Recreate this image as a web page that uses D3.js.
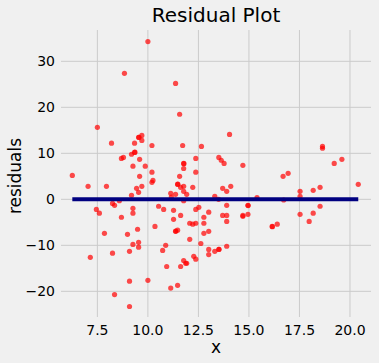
<!DOCTYPE html>
<html lang="en">
<head>
    <meta charset="UTF-8">
    <script src="https://d3js.org/d3.v7.min.js"></script>
    <title>Residual Plot</title>
    <style>
        body { margin: 0; background: #f0f0f0; }
        text { font-family: 'DejaVu Sans', sans-serif; fill: #000; }
    </style>
</head>
<body>
    <div id="app"></div>
    <script>
        const svg_width = 379;
        const svg_height = 363;

        // x values of each point
        var xs = [10.0, 8.84, 11.37, 11.57, 7.5, 9.54, 9.56, 9.7, 9.7, 8.2, 9.34, 10.2, 11.72, 12.65, 14.04,
            9.34, 9.36, 9.19, 8.79, 8.69, 9.59, 12.37, 13.63, 13.51, 13.77, 11.77, 11.78, 11.77, 9.87, 9.26,
            14.7, 19.22, 19.6, 18.64, 18.64, 16.69, 16.94, 20.41, 6.26, 10.2, 12.37, 9.59, 11.57, 10.25, 10.2,
            11.47, 11.48, 7.04, 7.95, 9.7, 9.44, 11.77, 12.22, 11.62, 13.7, 14.1, 13.9, 9.54, 11.77, 11.13,
            11.37, 11.92, 9.19, 13.31, 17.53, 17.53, 18.18, 18.52, 15.4, 11.16, 11.77, 8.59, 8.25, 8.35, 7.45,
            7.6, 8.69, 9.26, 9.26, 10.53, 10.78, 11.27, 11.62, 12.52, 12.37, 13.01, 12.77, 13.5, 16.72, 11.27,
            12.77, 12.37, 12.07, 12.22, 13.9, 13.9, 13.7, 13.9, 14.7, 14.7, 14.95, 14.95, 14.96, 17.53, 18.18,
            17.98, 18.52, 16.15, 16.16, 16.4, 9.49, 10.35, 11.37, 11.38, 11.47, 13.01, 12.77, 7.85, 8.99, 12.07,
            9.54, 9.54, 9.26, 10.88, 12.62, 13.9, 10.73, 13.01, 13.01, 13.51, 13.52, 13.31, 9.09, 8.25, 7.15,
            12.27, 12.37, 11.77, 11.87, 11.92, 10.93, 11.62, 11.13, 11.47, 9.09, 10.0, 8.35, 9.09]

        // residual of each point
        var residuals = [34.3, 27.4, 25.2, 18.5, 15.65, 13.5, 13.45, 13.9, 12.8, 12.2, 12.2, 11.7, 11.7, 11.5, 14.1,
            10.2, 10.25, 9.8, 9.1, 8.9, 8.7, 8.9, 8.5, 9.1, 7.8, 7.8, 7.75, 6.7, 7.2, 7.2,
            7.4, 7.8, 8.7, 11.5, 11.1, 5.0, 5.65, 3.26, 5.2, 5.9, 5.9, 5.0, 5.0, 4.1, 3.7,
            3.26, 3.3, 2.83, 2.83, 2.83, 2.4, 2.83, 2.6, 2.6, 2.4, 2.83, 1.74, 1.52, 1.74, 1.3,
            1.09, 1.09, 0.87, 0.65, 1.74, 0.65, 1.96, 2.6, 0.36, 0.5, -0.3, -0.3, -0.9, -1.3, -2.2,
            -3.0, -3.9, -1.96, -3.0, -1.5, -2.2, -2.4, -3.5, -1.74, -2.2, -2.8, -3.9, 0.0, -0.15, -4.35,
            -5.2, -5.2, -5.2, -5.4, -3.5, -4.8, -3.5, -1.3, -3.5, -3.7, -3.26, -1.3, -1.35, -3.26, -3.0,
            -4.8, -1.5, -5.9, -5.95, -5.4, -6.5, -5.9, -6.95, -6.9, -6.7, -6.95, -7.4, -7.4, -7.6, -8.7,
            -9.35, -10.4, -9.8, -10.0, -9.6, -10.2, -11.1, -10.9, -12.0, -10.9, -10.85, -11.3, -11.3, -11.7, -12.6,
            -12.4, -13.0, -13.3, -13.9, -13.9, -14.6, -14.6, -19.3, -18.7, -17.8, -17.6, -20.7, -23.3]

        var x_ticks = [7.5, 10.0, 12.5, 15.0, 17.5, 20.0]
        var y_ticks = [-20, -10, 0, 10, 20, 30]

        var points = xs.map(function (d, i) {
            return { x: d, y: residuals[i] }
        })

        var svg = d3.select('#app')
            .append('svg')
            .attr('width', svg_width)
            .attr('height', svg_height)

        svg.append('rect')
            .attr('width', svg_width)
            .attr('height', svg_height)
            .attr('fill', '#f0f0f0')

        var x_scale = d3.scaleLinear()
            .domain([5.7, 21.04])
            .range([61, 371])
        var y_scale = d3.scaleLinear()
            .domain([-25.58, 36.81])
            .range([317, 30])

        // grid
        svg.selectAll('.vgrid')
            .data(x_ticks)
            .enter()
            .append('line')
            .attr('x1', function (d) { return x_scale(d) })
            .attr('x2', function (d) { return x_scale(d) })
            .attr('y1', 30)
            .attr('y2', 317)
            .attr('stroke', '#cbcbcb')
            .attr('stroke-width', 1)

        svg.selectAll('.hgrid')
            .data(y_ticks)
            .enter()
            .append('line')
            .attr('x1', 61)
            .attr('x2', 371)
            .attr('y1', function (d) { return y_scale(d) })
            .attr('y2', function (d) { return y_scale(d) })
            .attr('stroke', '#cbcbcb')
            .attr('stroke-width', 1)

        // tick labels
        svg.selectAll('.xlab')
            .data(x_ticks)
            .enter()
            .append('text')
            .text(function (d) { return d.toFixed(1) })
            .attr('x', function (d) { return x_scale(d) })
            .attr('y', 335)
            .style('text-anchor', 'middle')
            .style('font-size', '14px')

        svg.selectAll('.ylab')
            .data(y_ticks)
            .enter()
            .append('text')
            .text(function (d) { return d < 0 ? '\u2212' + Math.abs(d) : d })
            .attr('x', 55)
            .attr('y', function (d) { return y_scale(d) })
            .attr('dy', '0.36em')
            .style('text-anchor', 'end')
            .style('font-size', '14px')

        // points
        svg.selectAll('circle')
            .data(points)
            .enter()
            .append('circle')
            .attr('cx', function (d) { return x_scale(d.x) })
            .attr('cy', function (d) { return y_scale(d.y) })
            .attr('r', 2.6)
            .attr('fill', 'red')
            .attr('fill-opacity', 0.7)

        // zero line from min x to max x
        svg.append('line')
            .attr('x1', x_scale(d3.min(xs)))
            .attr('x2', x_scale(d3.max(xs)))
            .attr('y1', y_scale(0))
            .attr('y2', y_scale(0))
            .attr('stroke', '#000080')
            .attr('stroke-width', 4)

        svg.append('text')
            .text('Residual Plot')
            .attr('x', 216)
            .attr('y', 22)
            .style('text-anchor', 'middle')
            .style('font-size', '20px')

        svg.append('text')
            .text('x')
            .attr('x', 216)
            .attr('y', 353)
            .style('text-anchor', 'middle')
            .style('font-size', '17px')

        svg.append('text')
            .text('residuals')
            .attr('transform', 'translate(21,176) rotate(-90)')
            .style('text-anchor', 'middle')
            .style('font-size', '17px')
    </script>
</body>
</html>
